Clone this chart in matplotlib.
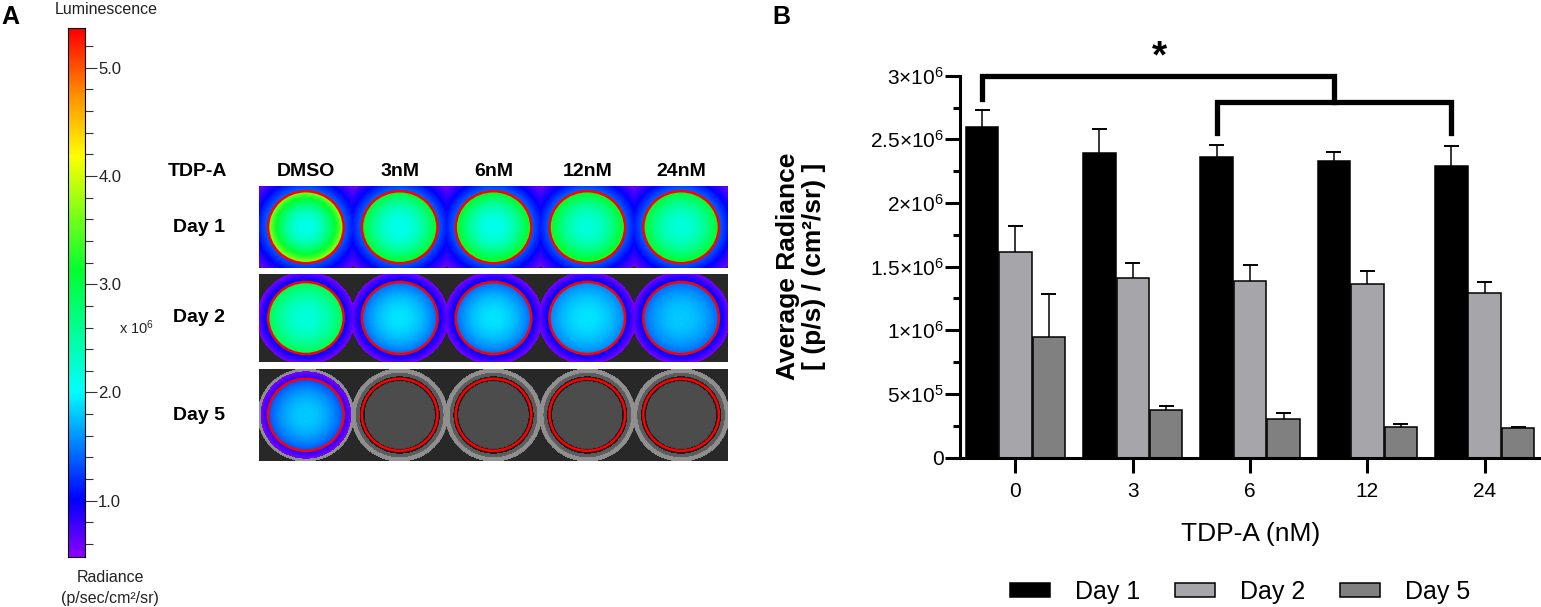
import numpy as np
import matplotlib
matplotlib.use("Agg")
import matplotlib.pyplot as plt
from matplotlib.colors import LinearSegmentedColormap
from matplotlib.patches import Ellipse, Patch
from matplotlib.ticker import MultipleLocator, FixedLocator

plt.rcParams['font.family'] = ['Liberation Sans', 'DejaVu Sans']
plt.rcParams['mathtext.fontset'] = 'custom'
plt.rcParams['mathtext.rm'] = 'Liberation Sans'
plt.rcParams['mathtext.default'] = 'regular'

# /=========================================================================
# data

# panel B: average radiance, p/s/cm2/sr
doses = ["0", "3", "6", "12", "24"]
day1 = [2.600e6, 2.390e6, 2.360e6, 2.331e6, 2.287e6]
day1_err = [0.130e6, 0.195e6, 0.097e6, 0.071e6, 0.162e6]
day2 = [1.611e6, 1.407e6, 1.384e6, 1.366e6, 1.290e6]
day2_err = [0.207e6, 0.123e6, 0.126e6, 0.096e6, 0.091e6]
day5 = [0.944e6, 0.377e6, 0.304e6, 0.243e6, 0.230e6]
day5_err = [0.338e6, 0.031e6, 0.047e6, 0.021e6, 0.011e6]
series_names = ["Day 1", "Day 2", "Day 5"]
ytick_vals = [0, 0.5e6, 1e6, 1.5e6, 2e6, 2.5e6, 3e6]
ytick_text = ["0", "5×10$^5$", "1×10$^6$", "1.5×10$^6$",
              "2×10$^6$", "2.5×10$^6$", "3×10$^6$"]

# panel A: well images, radiance x 10^6 (core of well, rim of well)
well_doses = ["DMSO", "3nM", "6nM", "12nM", "24nM"]
well_days = ["Day 1", "Day 2", "Day 5"]
well_core = [[2.1, 2.1, 2.1, 2.2, 2.2],
             [2.2, 1.9, 1.9, 1.9, 1.8],
             [1.8, 0.0, 0.0, 0.0, 0.0]]
well_rim = [[3.8, 3.2, 3.3, 3.3, 3.2],
            [3.0, 1.4, 1.4, 1.5, 1.4],
            [1.3, 0.0, 0.0, 0.0, 0.0]]
# halo outside well: (inner value, outer value, reach in radii)
row_halo = [(1.4, 0.6, 1.65), (1.1, 0.55, 1.3), (0.9, 0.55, 1.2)]
cbar_min, cbar_max = 0.483, 5.364
cbar_labels = [1.0, 2.0, 3.0, 4.0, 5.0]

# =========================================================================/

W, H = 1541, 607
fig = plt.figure(figsize=(W / 100, H / 100), dpi=100)


def box(x0, y0, x1, y1):
    # pixel box (top-left origin) -> figure fraction rect
    return [x0 / W, 1 - y1 / H, (x1 - x0) / W, (y1 - y0) / H]


def ftext(x, y, s, **kw):
    fig.text(x / W, 1 - y / H, s, **kw)


lum = LinearSegmentedColormap.from_list("lum", [
    (0.0, "#8a00ff"), (0.106, "#0000ff"), (0.311, "#00ffff"),
    (0.54, "#00ff30"), (0.76, "#ffff00"), (0.88, "#ff8c00"),
    (1.0, "#ff0000")])

# ---- panel A: colour scale
cax = fig.add_axes(box(68.3, 28.3, 85, 556.7))
grad = np.linspace(cbar_min, cbar_max, 300).reshape(-1, 1)
cax.imshow(grad, cmap=lum, vmin=cbar_min, vmax=cbar_max, aspect="auto",
           origin="lower", extent=(0, 1, cbar_min, cbar_max))
cax.set_xticks([])
cax.yaxis.tick_right()
cax.set_yticks(cbar_labels)
cax.set_yticklabels(["%.1f" % v for v in cbar_labels], fontsize=12,
                    color="#222222")
cax.yaxis.set_minor_locator(MultipleLocator(0.2))
cax.tick_params(axis="y", which="major", length=8.5, width=0.8, pad=1,
                color="#333333")
cax.tick_params(axis="y", which="minor", length=5.5, width=0.8,
                color="#333333")
for sp in cax.spines.values():
    sp.set_linewidth(0.8)

ftext(1, 17, "A", fontsize=18, fontweight="bold", ha="left", va="center")
ftext(106, 10, "Luminescence", fontsize=11.5, ha="center", va="center",
      color="#222222")
ftext(110, 578, "Radiance", fontsize=11.5, ha="center", va="center",
      color="#222222")
ftext(110, 598, "(p/sec/cm²/sr)", fontsize=11.5, ha="center", va="center",
      color="#222222")
ftext(119, 328, "x 10$^6$", fontsize=10.5, ha="left", va="center",
      color="#222222")

# ---- panel A: plate of wells
pw, ph = 469, 275
pax = fig.add_axes(box(259, 185.7, 259 + pw, 185.7 + ph))
pax.set_xlim(0, pw)
pax.set_ylim(ph, 0)
pax.axis("off")

row_tops = [0, 88.3, 183.6]
row_bots = [82.6, 176, 275]
cell = pw / 5
Rx, Ry = 37.8, 36.0
for r in range(3):
    top, bot = row_tops[r], row_bots[r]
    hgt = int(round(bot - top))
    yy, xx = np.mgrid[0:hgt, 0:pw] + 0.5
    cy = hgt / 2
    dmin = np.full((hgt, pw), 9.0)
    field = np.zeros((hgt, pw))
    hi, lo, reach = row_halo[r]
    for c in range(5):
        cx = cell * (c + 0.5)
        d = np.hypot((xx - cx) / Rx, (yy - cy) / Ry)
        dmin = np.minimum(dmin, d)
        core, rim = well_core[r][c], well_rim[r][c]
        if core == 0:
            continue
        inner = core + (rim - core) * d ** 2
        outer = hi - (hi - lo) * (d - 1) / (reach - 1)
        v = np.where(d <= 1, inner, np.where(d <= reach, outer, 0))
        field = np.maximum(field, v)
    # plate greyscale: floor, dark edge, wall, bright rim
    grey = np.select([dmin < 0.93, dmin < 1.06, dmin < 1.16, dmin < 1.28],
                     [0.30, 0.10, 0.36, 0.56], 0.16)
    pax.imshow(grey, cmap="gray", vmin=0, vmax=1, extent=(0, pw, bot, top),
               interpolation="bilinear", aspect="auto")
    pax.imshow(np.ma.masked_less(field, cbar_min), cmap=lum, vmin=cbar_min,
               vmax=cbar_max, extent=(0, pw, bot, top),
               interpolation="bilinear", aspect="auto")
    for c in range(5):
        pax.add_patch(Ellipse((cell * (c + 0.5), top + cy), 2 * Rx, 2 * Ry,
                              fill=False, edgecolor="#ff0000", lw=1.8))

ftext(198, 172, "TDP-A", fontsize=14, fontweight="bold", ha="center",
      va="center")
for c, name in enumerate(well_doses):
    ftext(259 + cell * (c + 0.5), 172, name, fontsize=14, fontweight="bold",
          ha="center", va="center")
for r, name in enumerate(well_days):
    ftext(199, 185.7 + (row_tops[r] + row_bots[r]) / 2, name, fontsize=14,
          fontweight="bold", ha="center", va="center")

# ---- panel B: bar chart
ax = fig.add_axes(box(960, 75.7, 1541, 457.5))
x = np.arange(len(doses))
bw, off = 0.277, 0.285
colors = ["#000000", "#a6a6aa", "#808080"]
means = [day1, day2, day5]
errs = [day1_err, day2_err, day5_err]
handles = []
for i in range(3):
    xs = x + (i - 1) * off
    ax.bar(xs, means[i], width=bw, color=colors[i], edgecolor="black",
           linewidth=1.1, zorder=2)
    tops = np.array(means[i]) + np.array(errs[i])
    ax.vlines(xs, means[i], tops, color="black", lw=1.1, zorder=1)
    ax.hlines(tops, xs - 0.064, xs + 0.064, color="black", lw=1.4, zorder=1)
    handles.append(Patch(facecolor=colors[i], edgecolor="black", lw=1.1,
                         label=series_names[i]))

ax.set_xlim(-0.473, 4.48)
ax.set_ylim(0, 3e6)
ax.set_xticks(x)
ax.set_xticklabels(doses, fontsize=15)
ax.yaxis.set_major_locator(FixedLocator(ytick_vals))
ax.set_yticklabels(ytick_text, fontsize=15)
ax.yaxis.set_minor_locator(MultipleLocator(0.25e6))
ax.tick_params(axis="x", which="major", length=10.5, width=2.2, pad=7)
ax.tick_params(axis="y", which="major", length=10.5, width=2.2, pad=1)
ax.tick_params(axis="y", which="minor", length=5, width=2.2)
for side in ["top", "right"]:
    ax.spines[side].set_visible(False)
for side in ["left", "bottom"]:
    ax.spines[side].set_linewidth(2.2)
    ax.spines[side].set_zorder(3)

ax.set_xlabel("TDP-A (nM)", fontsize=19, va="center")
ax.xaxis.set_label_coords(0.5, -0.2014)
ax.set_ylabel("Average Radiance\n[ (p/s) / (cm²/sr) ]", fontsize=19,
              fontweight="bold", ha="center", va="center", linespacing=1.15)
ax.yaxis.set_label_coords(-0.2737, 0.5)

# significance brackets (Day 1: DMSO vs 6-24 nM)
xl = 0 - off
xa, xb = 2 - off, 4 - off
xm = (xa + xb) / 2
ax.plot([xl, xl, xm, xm], [2.815e6, 3.0e6, 3.0e6, 2.797e6], color="black",
        lw=3.8, clip_on=False, solid_joinstyle="miter", zorder=4)
ax.plot([xa, xa, xb, xb], [2.553e6, 2.797e6, 2.797e6, 2.553e6],
        color="black", lw=3.8, clip_on=False, solid_joinstyle="miter",
        zorder=4)
ax.text(1.228, 3.14e6, "*", fontsize=28, fontweight="bold", ha="center",
        va="center", clip_on=False)

ftext(772, 17, "B", fontsize=18, fontweight="bold", ha="left", va="center")

fig.legend(handles=handles, loc="center", bbox_to_anchor=(1240 / W, 1 - 592 / H),
           ncol=3, frameon=False, fontsize=18, handlelength=1.6,
           handleheight=0.52, handletextpad=1.0, columnspacing=1.4)

fig.savefig("out.png", dpi=100)
